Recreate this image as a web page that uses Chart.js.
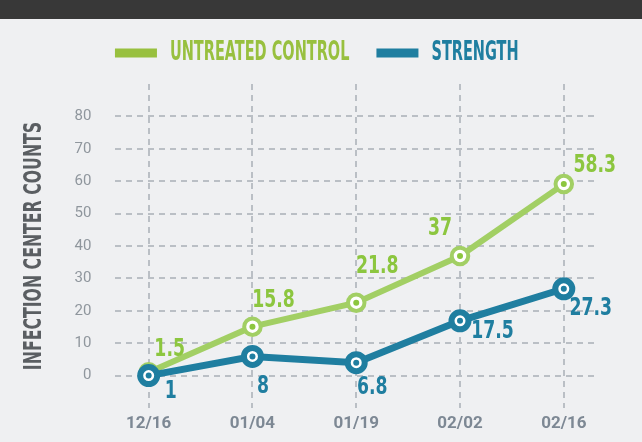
<!DOCTYPE html>
<html>
<head>
<meta charset="utf-8">
<script src="https://cdn.jsdelivr.net/npm/chart.js@4"></script>
<style>
  body { margin: 0; background: #eff0f2; }
  canvas { display: block; }
</style>
</head>
<body>
<canvas id="infectionChart" width="642" height="442"></canvas>
<script>
const dates = ["12/16", "01/04", "01/19", "02/02", "02/16"];
const seriesNames = ["UNTREATED CONTROL", "STRENGTH"];
const controlValues = [1, 15.1, 22.5, 36.9, 59.1];
const strengthValues = [0, 5.9, 4, 16.9, 26.8];
const controlLabels = ["1.5", "15.8", "21.8", "37", "58.3"];
const strengthLabels = ["1", "8", "6.8", "17.5", "27.3"];
const yTicks = [0, 10, 20, 30, 40, 50, 60, 70, 80];

const GREEN = "#a2cf64";
const GREEN_DARK = "#8cc63f";
const GREEN_LEGEND = "#98c03f";
const BLUE = "#1f7ea0";
const GRID = "#babfc5";
const NARROW = '"Liberation Sans Narrow", "DejaVu Sans Condensed", sans-serif';

// where each value label sits relative to its point
const controlOffsets = [[21, -23], [21, -26], [21, -36], [-20, -27], [31, -18]];
const strengthOffsets = [[22, 16], [10.5, 30], [16, 25], [32.5, 11], [27, 19.5]];

// the original uses a very condensed display face, squeeze the narrow font to get close
const squeeze = { 26: 0.62, 25: 0.7, 24: 0.8 };

function squeezeFor(ctx) {
  if (!ctx.font.includes("Narrow")) return 1;
  const size = parseFloat(ctx.font.match(/([\d.]+)px/)[1]);
  return squeeze[size] || 1;
}

function patchContext(ctx) {
  const fill = ctx.fillText.bind(ctx);
  const measure = ctx.measureText.bind(ctx);
  ctx.fillText = function (text, x, y) {
    const f = squeezeFor(ctx);
    if (f === 1) return fill(text, x, y);
    ctx.save();
    ctx.translate(x, y);
    ctx.scale(f, 1);
    fill(text, 0, 0);
    ctx.restore();
  };
  ctx.measureText = function (text) {
    const m = measure(text);
    const f = squeezeFor(ctx);
    if (f === 1) return m;
    return {
      width: m.width * f,
      actualBoundingBoxAscent: m.actualBoundingBoxAscent,
      actualBoundingBoxDescent: m.actualBoundingBoxDescent,
      actualBoundingBoxLeft: m.actualBoundingBoxLeft * f,
      actualBoundingBoxRight: m.actualBoundingBoxRight * f
    };
  };
}

const background = {
  id: "background",
  beforeDraw(chart) {
    const ctx = chart.ctx;
    ctx.save();
    ctx.fillStyle = "#eff0f2";
    ctx.fillRect(0, 0, chart.width, chart.height);
    ctx.fillStyle = "#383838";
    ctx.fillRect(0, 0, chart.width, 19);
    ctx.restore();
  }
};

const legendSpacer = {
  id: "legendSpacer",
  beforeInit(chart) {
    const fit = chart.legend.fit;
    chart.legend.fit = function () {
      fit.bind(chart.legend)();
      this.height += 8;
    };
  }
};

const valueLabels = {
  id: "valueLabels",
  afterDatasetsDraw(chart) {
    const ctx = chart.ctx;
    const sets = [
      { index: 0, texts: controlLabels, offsets: controlOffsets, color: GREEN_DARK },
      { index: 1, texts: strengthLabels, offsets: strengthOffsets, color: BLUE }
    ];
    ctx.save();
    ctx.font = "bold 24px " + NARROW;
    ctx.textAlign = "center";
    ctx.textBaseline = "middle";
    sets.forEach(set => {
      const meta = chart.getDatasetMeta(set.index);
      ctx.fillStyle = set.color;
      meta.data.forEach((pt, i) => {
        ctx.fillText(set.texts[i], pt.x + set.offsets[i][0], pt.y + set.offsets[i][1]);
      });
    });
    ctx.restore();
  }
};

function points(values) {
  return values.map((v, i) => ({ x: i, y: v }));
}

const canvas = document.getElementById("infectionChart");
const ctx = canvas.getContext("2d");
patchContext(ctx);

new Chart(ctx, {
  type: "line",
  data: {
    datasets: [
      {
        label: seriesNames[0],
        data: points(controlValues),
        borderColor: GREEN,
        borderWidth: 6,
        backgroundColor: "#ffffff",
        pointBackgroundColor: "#ffffff",
        pointBorderColor: GREEN,
        pointBorderWidth: 4,
        pointRadius: 8.25,
        order: 3
      },
      {
        label: seriesNames[1],
        data: points(strengthValues),
        borderColor: BLUE,
        borderWidth: 7,
        backgroundColor: "#ffffff",
        pointBackgroundColor: "#ffffff",
        pointBorderColor: BLUE,
        pointBorderWidth: 6,
        pointRadius: 8.5,
        order: 1
      },
      {
        data: points(controlValues),
        showLine: false,
        pointRadius: 3,
        pointBorderWidth: 0,
        pointBackgroundColor: GREEN_DARK,
        order: 2
      },
      {
        data: points(strengthValues),
        showLine: false,
        pointRadius: 3,
        pointBorderWidth: 0,
        pointBackgroundColor: BLUE,
        order: 0
      }
    ]
  },
  options: {
    responsive: false,
    animation: false,
    layout: { padding: { top: 13, left: 36.6, right: 45, bottom: 1.6 } },
    plugins: {
      tooltip: { enabled: false },
      legend: {
        position: "top",
        labels: {
          boxWidth: 42,
          boxHeight: 9,
          padding: 27,
          font: { family: NARROW, size: 26, weight: "bold" },
          generateLabels: () => [
            { text: seriesNames[0], fillStyle: GREEN_LEGEND, strokeStyle: GREEN_LEGEND, lineWidth: 0, fontColor: GREEN_LEGEND, datasetIndex: 0 },
            { text: seriesNames[1], fillStyle: BLUE, strokeStyle: BLUE, lineWidth: 0, fontColor: BLUE, datasetIndex: 1 }
          ]
        }
      }
    },
    scales: {
      x: {
        type: "linear",
        min: -0.32,
        max: 4.32,
        border: { display: false, dash: [6, 5] },
        grid: { color: GRID, lineWidth: 2, drawTicks: false },
        ticks: {
          stepSize: 1,
          includeBounds: false,
          padding: 6,
          color: "#7d8894",
          font: { family: "Roboto", size: 17, weight: "bold" },
          callback: value => dates[value] ?? ""
        }
      },
      y: {
        min: -10,
        max: 90,
        border: { display: false, dash: [6, 5] },
        grid: { color: GRID, lineWidth: 2, drawTicks: false },
        afterBuildTicks: scale => {
          scale.ticks = yTicks.map(v => ({ value: v }));
        },
        ticks: {
          padding: 24,
          color: "#8f969d",
          font: { family: "Roboto", size: 15 }
        },
        title: {
          display: true,
          text: "INFECTION CENTER COUNTS",
          color: "#5a5e62",
          padding: { top: -17.6, bottom: 1.6 },
          font: { family: NARROW, size: 25, weight: "bold" }
        }
      }
    }
  },
  plugins: [background, legendSpacer, valueLabels]
});
</script>
</body>
</html>
